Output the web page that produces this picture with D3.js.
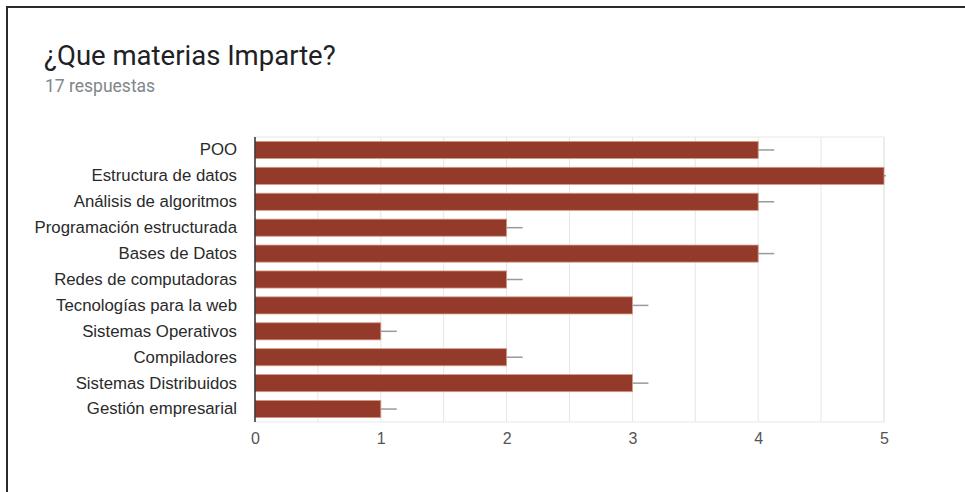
<!DOCTYPE html>
<html>
<head>
<meta charset="utf-8">
<script src="https://cdn.jsdelivr.net/npm/d3@7"></script>
<style>
  body { margin: 0; background: #fff; }
  svg { display: block; }
</style>
</head>
<body>
<script>
// chart data
var materias = ["POO", "Estructura de datos", "Análisis de algoritmos", "Programación estructurada",
  "Bases de Datos", "Redes de computadoras", "Tecnologías para la web", "Sistemas Operativos",
  "Compiladores", "Sistemas Distribuidos", "Gestión empresarial"];
var respuestas = [4, 5, 4, 2, 4, 2, 3, 1, 2, 3, 1];
var xTicks = [0, 1, 2, 3, 4, 5];
var gridValues = [0.5, 1, 1.5, 2, 2.5, 3, 3.5, 4, 4.5, 5];
var titulo = "¿Que materias Imparte?";
var subtitulo = "17 respuestas";

var svgWidth = 965;
var svgHeight = 492;
var margin = {top: 137, right: 81, bottom: 70, left: 255};
var width = svgWidth - margin.left - margin.right;
var height = svgHeight - margin.top - margin.bottom;

var svg = d3.select("body").append("svg")
  .attr("width", svgWidth)
  .attr("height", svgHeight);

// outer frame (top + left only visible)
svg.append("line").attr("x1", 6).attr("x2", svgWidth).attr("y1", 7).attr("y2", 7)
  .attr("stroke", "#2a2a2a").attr("stroke-width", 2);
svg.append("line").attr("x1", 7).attr("x2", 7).attr("y1", 6).attr("y2", svgHeight)
  .attr("stroke", "#2a2a2a").attr("stroke-width", 2);

svg.append("text")
  .attr("x", 44).attr("y", 65)
  .attr("font-family", "Roboto, sans-serif")
  .attr("font-size", 27.5)
  .attr("fill", "#202124")
  .text(titulo);

svg.append("text")
  .attr("x", 45).attr("y", 92)
  .attr("font-family", "Roboto, sans-serif")
  .attr("font-size", 17.5)
  .attr("fill", "#80868b")
  .text(subtitulo);

var xScale = d3.scaleLinear().domain([0, 5]).range([0, width]);
var yScale = d3.scaleBand().domain(materias).range([0, height]).paddingInner(0.34).paddingOuter(0.17);

var inner = svg.append("g")
  .attr("transform", "translate(" + margin.left + "," + margin.top + ")");

// plot frame
inner.append("rect")
  .attr("x", 0).attr("y", 0)
  .attr("width", width).attr("height", height)
  .attr("fill", "none").attr("stroke", "#e8e8e8");

// gridlines
inner.selectAll(".grid")
  .data(gridValues)
  .enter().append("line")
  .attr("class", "grid")
  .attr("x1", function(d) { return xScale(d); })
  .attr("x2", function(d) { return xScale(d); })
  .attr("y1", 0).attr("y2", height)
  .attr("stroke", "#e6e6e6");

// bars
inner.selectAll(".bar")
  .data(respuestas)
  .enter().append("rect")
  .attr("class", "bar")
  .attr("x", 0)
  .attr("y", function(d, i) { return yScale(materias[i]); })
  .attr("width", function(d) { return xScale(d); })
  .attr("height", yScale.bandwidth())
  .attr("fill", "#933a2b")
  .attr("stroke", "#d49a80")
  .attr("stroke-width", 0.8);

// small gray whiskers at bar ends
inner.selectAll(".whisk")
  .data(respuestas)
  .enter().append("line")
  .attr("class", "whisk")
  .attr("x1", function(d) { return xScale(d); })
  .attr("x2", function(d) { return Math.min(xScale(d) + 16, width + 2); })
  .attr("y1", function(d, i) { return yScale(materias[i]) + yScale.bandwidth() / 2; })
  .attr("y2", function(d, i) { return yScale(materias[i]) + yScale.bandwidth() / 2; })
  .attr("stroke", "#9a9a9a")
  .attr("stroke-width", 1.5);

// y axis line
inner.append("line")
  .attr("x1", 0).attr("x2", 0).attr("y1", 0).attr("y2", height)
  .attr("stroke", "#333").attr("stroke-width", 1.5);

// category labels
var yAxis = d3.axisLeft(yScale).tickSize(0).tickPadding(18);
var gY = inner.append("g").call(yAxis);
gY.select(".domain").remove();
gY.selectAll("text")
  .attr("font-family", "Liberation Sans, Arial, sans-serif")
  .attr("font-size", 16.8)
  .attr("fill", "#2a2a2a");

// x tick labels
var xAxis = d3.axisBottom(xScale).tickValues(xTicks).tickSize(0).tickPadding(11).tickFormat(d3.format("d"));
var gX = inner.append("g")
  .attr("transform", "translate(0," + height + ")")
  .call(xAxis);
gX.select(".domain").remove();
gX.selectAll("text")
  .attr("font-family", "Liberation Sans, Arial, sans-serif")
  .attr("font-size", 16)
  .attr("fill", "#555");
</script>
</body>
</html>
